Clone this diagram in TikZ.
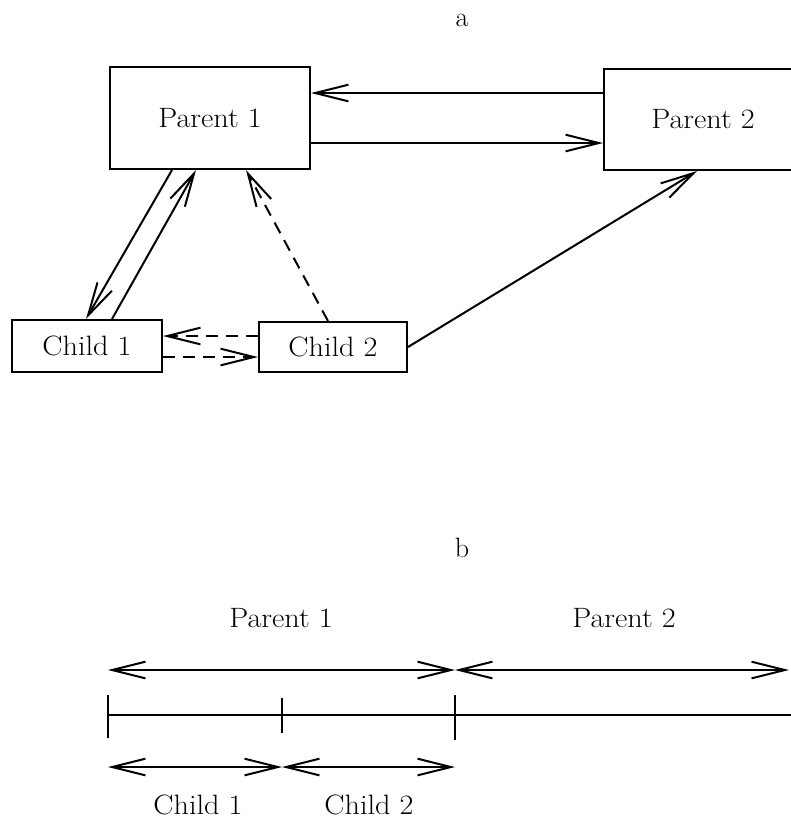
\documentclass[tikz,border=0pt]{standalone}
\usetikzlibrary{arrows.meta}
\newcommand\wtxt[1]{\scalebox{1.08}[1]{#1}}
\tikzset{
  conn/.style={line width=1.5pt},
  tipb/.style={-{Straight Barb[length=25pt,width=12.5pt]}},
  dtip/.style={{Straight Barb[length=25pt,width=12.5pt]}-{Straight Barb[length=25pt,width=12.5pt]}},
  dsh/.style={dash pattern=on 9pt off 6pt},
  box/.style={draw,line width=1.5pt,inner sep=0pt,font=\fontsize{21}{24}\selectfont},
  lab/.style={inner sep=0pt,font=\fontsize{21}{24}\selectfont},
}
\begin{document}
\begin{tikzpicture}[x=0.75pt,y=-0.75pt]
\useasboundingbox (0,0) rectangle (791,829);
\clip (0,0) rectangle (791,829);
% part a
\node[lab] (la) at (462,20) {a};
\node[box,minimum width=150pt,minimum height=76.5pt] (P1) at (210,118) {\wtxt{Parent 1}};
\node[box,minimum width=148.5pt,minimum height=75.75pt] (P2) at (703,119.5) {\wtxt{Parent 2}};
\node[box,minimum width=112.5pt,minimum height=39pt] (C1) at (87,346) {\wtxt{Child 1}};
\node[box,minimum width=111pt,minimum height=37.5pt] (C2) at (333,347) {\wtxt{Child 2}};
\draw[conn,tipb] ([yshift=19.875pt]P2.west) -- ([yshift=18.75pt]P1.east);
\draw[conn,tipb] ([yshift=-18.75pt]P1.east) -- ([yshift=-17.625pt]P2.west);
\draw[conn,tipb] ([xshift=-28.5pt]P1.south) -- ([xshift=-0.75pt]C1.north);
\draw[conn,tipb] ([xshift=18.75pt]C1.north) -- ([xshift=-10.5pt]P1.south);
\draw[conn,tipb,dsh] ([xshift=-3.75pt]C2.north) -- ([xshift=27pt]P1.south);
\draw[conn,tipb,dsh] ([yshift=8.25pt]C2.west) -- ([yshift=7.5pt]C1.east);
\draw[conn,tipb,dsh] ([yshift=-8.25pt]C1.east) -- ([yshift=-7.5pt]C2.west);
\draw[conn,tipb] (C2.east) -- ([xshift=-4.5pt]P2.south);
% part b
\node[lab] (lb) at (462,548) {b};
\node[lab] (tp1) at (281,618) {\wtxt{Parent 1}};
\node[lab] (tp2) at (624,618) {\wtxt{Parent 2}};
\node[lab] (tc1) at (198,805) {\wtxt{Child 1}};
\node[lab] (tc2) at (369,805) {\wtxt{Child 2}};
\coordinate (a0) at (108,670);
\coordinate (a1) at (455,670);
\coordinate (a2) at (789,670);
\coordinate (b0) at (108,767);
\coordinate (b1) at (282,767);
\coordinate (b2) at (455,767);
\coordinate (m0) at (108,715);
\coordinate (m3) at (791,715);
\draw[conn,dtip] (a0) -- (a1);
\draw[conn,dtip] (a1) -- (a2);
\draw[conn,dtip] (b0) -- (b1);
\draw[conn,dtip] (b1) -- (b2);
\draw[conn] (m0) -- (m3);
\draw[conn] (108,695) -- (108,738);
\draw[conn] (282,698) -- (282,733);
\draw[conn] (455,695) -- (455,740);
\end{tikzpicture}
\end{document}
